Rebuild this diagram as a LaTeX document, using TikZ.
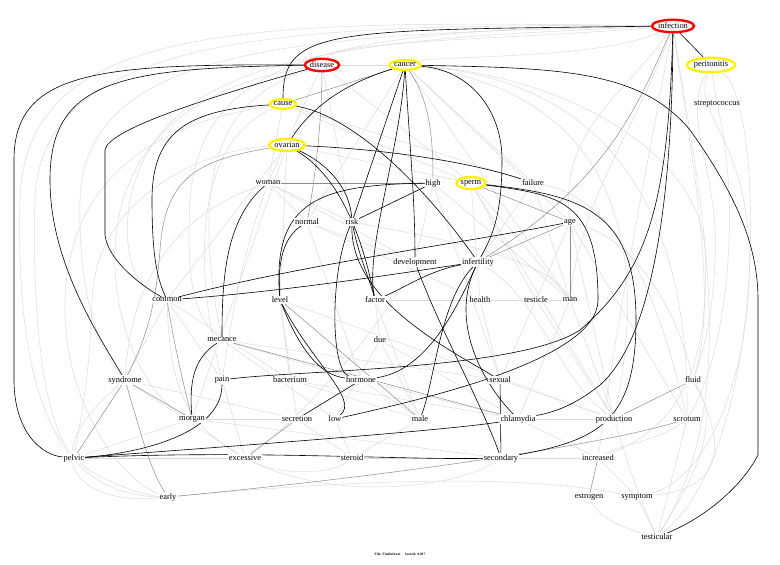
\documentclass[tikz,border=0pt]{standalone}
\usepackage{fontspec}
\setmainfont{Liberation Serif}
\usetikzlibrary{shapes.geometric,backgrounds}

\tikzset{
  word/.style={inner sep=0.8pt, fill=white, font=\fontsize{8.4}{9}\selectfont},
  hubred/.style={word, ellipse, draw=red, line width=2.4pt, inner xsep=0pt, inner ysep=1.4pt},
  hubyel/.style={word, ellipse, draw=yellow, line width=2.4pt, inner xsep=0pt, inner ysep=1.4pt},
  strong/.style={black, line width=0.6pt},
  medium/.style={black!45, line width=0.5pt},
  faint/.style={black!14, line width=0.5pt},
}

\begin{document}
\begin{tikzpicture}[x=1pt,y=1pt]
\useasboundingbox (0,0) rectangle (780,-565);

% terms
\node[hubred] (infection) at (673,-26) {infection};
\node[hubred] (disease) at (322,-65) {disease};
\node[hubyel] (cancer) at (405,-65) {cancer};
\node[hubyel] (peritonitis) at (711,-65) {peritonitis};
\node[word] (streptococcus) at (717,-104) {streptococcus};
\node[hubyel] (cause) at (283,-104) {cause};
\node[hubyel] (ovarian) at (287,-145) {ovarian};
\node[word] (woman) at (268,-183) {woman};
\node[word] (high) at (433,-183) {high};
\node[hubyel] (sperm) at (471,-183) {sperm};
\node[word] (failure) at (533,-183) {failure};
\node[word] (normal) at (307,-222) {normal};
\node[word] (risk) at (352,-222) {risk};
\node[word] (age) at (570,-222) {age};
\node[word] (development) at (415,-262) {development};
\node[word] (infertility) at (478,-262) {infertility};
\node[word] (common) at (167,-300) {common};
\node[word] (level) at (280,-300) {level};
\node[word] (factor) at (375,-300) {factor};
\node[word] (health) at (480,-300) {health};
\node[word] (testicle) at (536,-300) {testicle};
\node[word] (man) at (570,-300) {man};
\node[word] (mecance) at (222,-340) {mecance};
\node[word] (due) at (380,-340) {due};
\node[word] (syndrome) at (125,-380) {syndrome};
\node[word] (pain) at (222,-380) {pain};
\node[word] (bacterium) at (290,-380) {bacterium};
\node[word] (hormone) at (361,-380) {hormone};
\node[word] (sexual) at (500,-380) {sexual};
\node[word] (fluid) at (693,-380) {fluid};
\node[word] (morgan) at (192,-419) {morgan};
\node[word] (secretion) at (297,-419) {secretion};
\node[word] (low) at (335,-419) {low};
\node[word] (male) at (420,-419) {male};
\node[word] (chlamydia) at (518,-419) {chlamydia};
\node[word] (production) at (614,-419) {production};
\node[word] (scrotum) at (687,-419) {scrotum};
\node[word] (pelvic) at (74,-458) {pelvic};
\node[word] (excessive) at (245,-458) {excessive};
\node[word] (steroid) at (352,-458) {steroid};
\node[word] (secondary) at (501,-458) {secondary};
\node[word] (increased) at (598,-458) {increased};
\node[word] (early) at (168,-497) {early};
\node[word] (estrogen) at (589,-497) {estrogen};
\node[word] (symptom) at (637,-497) {symptom};
\node[word] (testicular) at (657,-537) {testicular};
\node[inner sep=0pt, font=\fontsize{3.5}{4}\selectfont\bfseries] (footer) at (400,-554) {File: Findinfo.txt \quad Scored: 0.017};

\begin{scope}[on background layer]
% weak links
\draw[faint] (infection) .. controls (250,-20) and (25,-20) .. (20,-200) .. controls (15,-400) and (60,-495) .. (early);
\draw[faint] (infection) .. controls (300,-24) and (40,-30) .. (35,-200) .. controls (32,-330) and (45,-420) .. (pelvic);
\draw[faint] (infection) .. controls (300,-34) and (85,-45) .. (80,-200) .. controls (78,-300) and (100,-350) .. (syndrome);
\draw[faint] (infection) .. controls (320,-40) and (160,-60) .. (130,-200) .. controls (120,-260) and (140,-290) .. (common);
\draw[faint] (infection) .. controls (330,-28) and (200,-60) .. (190,-200) .. controls (185,-300) and (200,-320) .. (mecance);
\draw[faint] (infection) .. controls (500,-40) and (340,-40) .. (disease);
\draw[faint] (infection) .. controls (600,-60) and (440,-55) .. (cancer);
\draw[faint] (infection) .. controls (650,-150) and (620,-300) .. (increased);
\draw[faint] (infection) .. controls (700,-200) and (745,-400) .. (testicular);
\draw[faint] (infection) .. controls (690,-150) and (720,-300) .. (fluid);
\draw[faint] (infection) .. controls (640,-120) and (580,-200) .. (man);
\draw[faint] (infection) .. controls (620,-100) and (560,-130) .. (age);
\draw[faint] (peritonitis) -- (streptococcus);
\draw[faint] (peritonitis) .. controls (765,-100) and (770,-450) .. (testicular);
\draw[faint] (peritonitis) .. controls (690,-120) and (760,-140) .. (748,-300) .. controls (740,-400) and (700,-480) .. (symptom);
\draw[faint] (peritonitis) .. controls (680,-120) and (720,-170) .. (715,-260) .. controls (712,-330) and (700,-360) .. (fluid);
\draw[faint] (streptococcus) .. controls (740,-200) and (730,-350) .. (scrotum);
\draw[faint] (fluid) .. controls (720,-420) and (700,-470) .. (testicular);
\draw[faint] (scrotum) -- (testicular);
\draw[faint] (symptom) -- (testicular);
\draw[faint] (estrogen) .. controls (600,-520) and (630,-530) .. (testicular);
\draw[faint] (production) .. controls (630,-470) and (640,-500) .. (testicular);
\draw[faint] (scrotum) .. controls (660,-440) and (620,-445) .. (increased);
\draw[faint] (symptom) .. controls (700,-490) and (740,-470) .. (fluid);
\draw[faint] (early) .. controls (300,-485) and (500,-470) .. (symptom);
\draw[faint] (early) .. controls (80,-505) and (30,-460) .. (syndrome);
\draw[faint] (pelvic) .. controls (100,-480) and (140,-495) .. (early);
\draw[faint] (pelvic) -- (excessive);
\draw[faint] (excessive) .. controls (280,-475) and (330,-475) .. (steroid);
\draw[faint] (steroid) -- (secondary);
\draw[faint] (excessive) .. controls (330,-500) and (450,-490) .. (secondary);
\draw[faint] (secretion) -- (steroid);
\draw[faint] (low) -- (steroid);
\draw[faint] (male) -- (steroid);
\draw[faint] (pain) -- (excessive);
\draw[faint] (morgan) -- (secretion);
\draw[faint] (morgan) -- (secondary);
\draw[faint] (syndrome) -- (secretion);
\draw[faint] (bacterium) -- (chlamydia);
\draw[faint] (bacterium) -- (male);
\draw[faint] (common) -- (bacterium);
\draw[faint] (common) -- (pain);
\draw[faint] (common) -- (syndrome);
\draw[faint] (common) .. controls (170,-380) and (180,-420) .. (excessive);
\draw[faint] (mecance) -- (hormone);
\draw[faint] (mecance) -- (sexual);
\draw[faint] (mecance) -- (low);
\draw[faint] (woman) -- (risk);
\draw[faint] (woman) -- (development);
\draw[faint] (woman) .. controls (240,-260) and (230,-330) .. (pain);
\draw[faint] (woman) .. controls (160,-220) and (130,-300) .. (syndrome);
\draw[faint] (woman) -- (normal);
\draw[faint] (normal) -- (development);
\draw[faint] (normal) -- (hormone);
\draw[faint] (normal) -- (health);
\draw[faint] (level) -- (production);
\draw[faint] (level) -- (bacterium);
\draw[faint] (level) -- (secretion);
\draw[faint] (factor) -- (health);
\draw[faint] (factor) -- (due);
\draw[faint] (factor) -- (male);
\draw[faint] (health) -- (man);
\draw[faint] (health) -- (sexual);
\draw[faint] (testicle) -- (age);
\draw[faint] (testicle) -- (production);
\draw[faint] (testicle) -- (sexual);
\draw[faint] (man) -- (production);
\draw[faint] (man) -- (chlamydia);
\draw[faint] (failure) -- (man);
\draw[faint] (failure) -- (infertility);
\draw[faint] (failure) .. controls (620,-200) and (660,-300) .. (scrotum);
\draw[faint] (high) -- (man);
\draw[faint] (high) -- (sexual);
\draw[faint] (high) -- (development);
\draw[faint] (sperm) -- (testicle);
\draw[faint] (sperm) -- (health);
\draw[faint] (sperm) -- (production);
\draw[faint] (sperm) -- (man);
\draw[faint] (disease) -- (woman);
\draw[faint] (disease) -- (risk);
\draw[faint] (disease) -- (sperm);
\draw[faint] (disease) -- (cancer);
\draw[faint] (disease) .. controls (250,-90) and (180,-130) .. (mecance);
\draw[faint] (disease) .. controls (230,-80) and (120,-120) .. (115,-250) .. controls (112,-330) and (150,-400) .. (morgan);
\draw[faint] (cause) -- (woman);
\draw[faint] (cause) -- (sperm);
\draw[faint] (cause) .. controls (200,-140) and (190,-250) .. (pain);
\draw[faint] (cause) -- (failure);
\draw[faint] (cause) .. controls (180,-120) and (70,-160) .. (65,-300) .. controls (62,-400) and (120,-480) .. (early);
\draw[faint] (cancer) -- (failure);
\draw[faint] (cancer) -- (age);
\draw[faint] (cancer) -- (man);
\draw[faint] (cancer) -- (normal);
\draw[faint] (cancer) .. controls (600,-80) and (690,-200) .. (scrotum);
\draw[faint] (cancer) .. controls (580,-90) and (660,-200) .. (production);
\draw[faint] (cancer) .. controls (560,-75) and (700,-150) .. (705,-250) .. controls (708,-330) and (700,-420) .. (increased);
\draw[faint] (ovarian) -- (common);
\draw[faint] (ovarian) -- (morgan);
\draw[faint] (ovarian) -- (level);
\draw[faint] (ovarian) -- (sperm);
\draw[faint] (ovarian) .. controls (200,-150) and (95,-200) .. (92,-300) .. controls (90,-380) and (80,-420) .. (pelvic);
\draw[faint] (chlamydia) -- (production);
\draw[faint] (chlamydia) -- (increased);
\draw[faint] (secondary) -- (increased);
\draw[faint] (sexual) -- (production);
\draw[faint] (due) -- (low);
\draw[faint] (due) -- (male);
\draw[faint] (due) -- (chlamydia);
\draw[faint] (hormone) -- (chlamydia);
\draw[faint] (hormone) -- (male);
\draw[faint] (pelvic) -- (morgan);
\draw[faint] (syndrome) -- (excessive);
\draw[faint] (age) -- (production);
\draw[faint] (age) -- (scrotum);
\draw[faint] (age) .. controls (640,-240) and (680,-320) .. (fluid);
\draw[faint] (increased) -- (symptom);
\draw[faint] (infertility) .. controls (540,-300) and (560,-380) .. (production);
\draw[faint] (development) .. controls (380,-330) and (300,-420) .. (excessive);
\draw[faint] (risk) .. controls (450,-240) and (550,-260) .. (man);

% middle links
\draw[medium] (cancer) .. controls (430,-100) and (433,-140) .. (high);
\draw[medium] (disease) .. controls (322,-120) and (315,-180) .. (normal);
\draw[medium] (cause) -- (cancer);
\draw[medium] (ovarian) .. controls (200,-160) and (165,-175) .. (160,-250) .. controls (155,-320) and (140,-350) .. (syndrome);
\draw[medium] (woman) -- (high);
\draw[medium] (age) -- (man);
\draw[medium] (age) -- (infertility);
\draw[medium] (sperm) -- (age);
\draw[medium] (syndrome) -- (morgan);
\draw[medium] (syndrome) .. controls (140,-430) and (150,-470) .. (early);
\draw[medium] (syndrome) -- (pelvic);
\draw[medium] (fluid) -- (production);
\draw[medium] (increased) -- (estrogen);
\draw[medium] (early) .. controls (400,-475) and (600,-445) .. (scrotum);
\draw[medium] (secretion) -- (excessive);
\draw[medium] (level) -- (male);
\draw[medium] (mecance) -- (chlamydia);
\draw[medium] (common) .. controls (175,-350) and (185,-390) .. (morgan);
\draw[medium] (infection) .. controls (640,-100) and (610,-180) .. (infertility);

% strong links
\draw[strong] (infection) .. controls (330,-30) and (283,-28) .. (cause);
\draw[strong] (infection) -- (peritonitis);
\draw[strong] (disease) .. controls (100,-64) and (14,-70) .. (14,-160) -- (14,-380) .. controls (14,-430) and (40,-455) .. (pelvic);
\draw[strong] (disease) .. controls (120,-68) and (50,-80) .. (50,-180) .. controls (50,-260) and (95,-330) .. (syndrome);
\draw[strong] (disease) .. controls (200,-100) and (108,-130) .. (105,-150) -- (105,-235) .. controls (108,-260) and (140,-285) .. (common);
\draw[strong] (cause) .. controls (190,-110) and (152,-130) .. (152,-200) .. controls (152,-260) and (158,-280) .. (common);
\draw[strong] (cause) .. controls (350,-115) and (420,-180) .. (infertility);
\draw[strong] (cancer) .. controls (340,-85) and (310,-110) .. (ovarian);
\draw[strong] (cancer) -- (risk);
\draw[strong] (cancer) .. controls (410,-150) and (415,-200) .. (development);
\draw[strong] (cancer) .. controls (400,-150) and (365,-250) .. (factor);
\draw[strong] (cancer) .. controls (470,-70) and (502,-110) .. (502,-160) .. controls (502,-220) and (490,-240) .. (infertility);
\draw[strong] (cancer) .. controls (560,-68) and (640,-70) .. (690,-130) .. controls (740,-200) and (758,-250) .. (758,-300) -- (758,-455) .. controls (740,-490) and (700,-520) .. (testicular);
\draw[strong] (ovarian) .. controls (400,-150) and (480,-165) .. (failure);
\draw[strong] (ovarian) .. controls (330,-165) and (350,-190) .. (risk);
\draw[strong] (ovarian) .. controls (345,-180) and (365,-250) .. (factor);
\draw[strong] (infection) .. controls (668,-200) and (650,-270) .. (580,-330) .. controls (520,-370) and (300,-370) .. (pain);
\draw[strong] (infection) .. controls (672,-250) and (640,-350) .. (600,-385) .. controls (575,-405) and (555,-412) .. (chlamydia);
\draw[strong] (sperm) .. controls (580,-195) and (636,-210) .. (636,-320) .. controls (636,-420) and (600,-440) .. (secondary);
\draw[strong] (sperm) .. controls (560,-195) and (598,-200) .. (598,-300) .. controls (598,-360) and (420,-400) .. (low);
\draw[strong] (common) .. controls (300,-265) and (480,-240) .. (age);
\draw[strong] (common) .. controls (300,-290) and (420,-270) .. (infertility);
\draw[strong] (woman) .. controls (225,-220) and (222,-280) .. (mecance);
\draw[strong] (normal) .. controls (280,-240) and (278,-270) .. (level);
\draw[strong] (high) .. controls (320,-185) and (272,-200) .. (level);
\draw[strong] (high) -- (risk);
\draw[strong] (risk) .. controls (360,-260) and (370,-280) .. (factor);
\draw[strong] (risk) .. controls (350,-300) and (450,-350) .. (sexual);
\draw[strong] (risk) .. controls (330,-270) and (330,-370) .. (hormone);
\draw[strong] (level) .. controls (300,-350) and (320,-375) .. (hormone);
\draw[strong] (level) .. controls (310,-360) and (360,-400) .. (low);
\draw[strong] (mecance) .. controls (190,-360) and (190,-390) .. (morgan);
\draw[strong] (pain) .. controls (222,-440) and (120,-455) .. (pelvic);
\draw[strong] (pelvic) .. controls (250,-445) and (450,-430) .. (chlamydia);
\draw[strong] (pelvic) .. controls (250,-450) and (400,-460) .. (secondary);
\draw[strong] (hormone) -- (secretion);
\draw[strong] (infertility) .. controls (430,-270) and (400,-290) .. (factor);
\draw[strong] (infertility) .. controls (460,-300) and (430,-370) .. (hormone);
\draw[strong] (infertility) .. controls (440,-300) and (435,-380) .. (male);
\draw[strong] (infertility) .. controls (450,-320) and (480,-380) .. (chlamydia);
\draw[strong] (development) .. controls (440,-330) and (480,-400) .. (secondary);
\draw[strong] (sexual) -- (secondary);
\end{scope}
\end{tikzpicture}
\end{document}
